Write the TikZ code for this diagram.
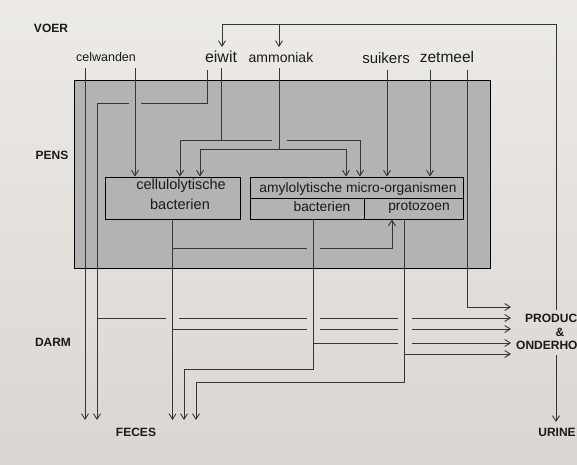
\documentclass[tikz,border=0pt]{standalone}
\usepackage{fontspec}
\setmainfont{Liberation Sans}
\usetikzlibrary{arrows.meta}
\definecolor{bgtop}{HTML}{EDEBE7}
\definecolor{bgbot}{HTML}{DAD6D2}
\definecolor{pensgray}{HTML}{B3B3B3}
\definecolor{ln}{HTML}{363636}
\definecolor{txt}{HTML}{1A1A1A}
\begin{document}
\begin{tikzpicture}[x=1pt,y=-1pt,
  flow/.style={draw=ln,line width=0.9pt},
  arr/.style={flow,-{Straight Barb[length=5.5pt,width=7pt]}},
  sect/.style={inner sep=0pt,text=txt,font=\bfseries\fontsize{12}{14}\selectfont},
  feed/.style={inner sep=0pt,text=txt},
  boxtxt/.style={inner sep=0pt,text=txt,font=\fontsize{14.5}{16}\selectfont},
  orgbox/.style={draw=black,line width=0.9pt,fill=pensgray,inner sep=0pt}
]
\useasboundingbox (0,0) rectangle (577,464);
\shade[top color=bgtop,bottom color=bgbot] (0,0) rectangle (577,464);

% section labels
\node[sect] (voer) at (51,28) {VOER};
\node[sect] (penslbl) at (52,155) {PENS};
\node[sect] (darm) at (53,342) {DARM};
\node[sect] (feces) at (136,432) {FECES};
\node[sect,anchor=west] (prod) at (525,318) {PRODUC};
\node[sect] (amp) at (560,332) {\&};
\node[sect,anchor=west] (ond) at (516,345) {ONDERHO};
\node[sect] (urine) at (557,432) {URINE};

% feed labels
\node[feed,font=\fontsize{12.5}{14}\selectfont] (celw) at (106,57) {celwanden};
\node[feed,font=\fontsize{16}{18}\selectfont] (eiwit) at (221,57) {eiwit};
\node[feed,font=\fontsize{14}{16}\selectfont] (ammo) at (281,57) {ammoniak};
\node[feed,font=\fontsize{15}{17}\selectfont] (suik) at (386,58) {suikers};
\node[feed,font=\fontsize{15.5}{17}\selectfont] (zetm) at (447,57) {zetmeel};

% rumen
\node[draw=black,line width=0.9pt,fill=pensgray,minimum width=416pt,minimum height=188pt,inner sep=0pt] (pens) at (282,174) {};

% organism boxes
\node[orgbox,minimum width=135pt,minimum height=42pt] (cell) at (172.5,198) {};
\node[boxtxt] (cellt) at (181,186) {cellulolytische};
\node[boxtxt] (cellb) at (180,204) {bacterien};

\node[orgbox,minimum width=213pt,minimum height=42pt] (amy) at (356.5,198) {};
\draw[draw=black,line width=0.9pt] (amy.west) -- (amy.east);
\coordinate (dv) at (364,198);
\draw[draw=black,line width=0.9pt] (dv) -- (dv |- amy.south);
\node[boxtxt,font=\fontsize{13.8}{16}\selectfont] (amyt) at (358,189) {amylolytische micro-organismen};
\node[boxtxt,font=\fontsize{13.8}{16}\selectfont] (bact) at (322,207) {bacterien};
\node[boxtxt,font=\fontsize{13.8}{16}\selectfont] (proto) at (419,207) {protozoen};

% reference levels
\coordinate (fy) at (0,420);
\coordinate (px) at (511,0);

% celwanden
\coordinate (cw1) at (85,68);
\coordinate (cw2) at (135,68);
\draw[arr] (cw1) -- (cw1 |- fy);
\draw[arr] (cw2) -- (cw2 |- cell.north);

% eiwit, left branch
\coordinate (ew1) at (207,70);
\coordinate (ew1b) at (207,103);
\coordinate (ew1g) at (141,103);
\coordinate (ew1h) at (129,103);
\coordinate (ew1c) at (97,103);
\draw[flow] (ew1) -- (ew1b) -- (ew1g);
\draw[arr] (ew1h) -- (ew1c) -- (ew1c |- fy);

% eiwit, right branch
\coordinate (ew2) at (221,68);
\coordinate (ew2b) at (221,140);
\coordinate (e2l) at (180,140);
\coordinate (e2g) at (272,140);
\coordinate (e2h) at (287,140);
\coordinate (e2r) at (360,140);
\draw[flow] (ew2) -- (ew2b);
\draw[arr] (e2g) -- (e2l) -- (e2l |- cell.north);
\draw[arr] (e2h) -- (e2r) -- (e2r |- amy.north);

% ammoniak
\coordinate (am) at (279,68);
\coordinate (amb) at (279,149);
\coordinate (aml) at (200,149);
\coordinate (amr) at (346,149);
\draw[flow] (am) -- (amb);
\draw[arr] (amb) -- (aml) -- (aml |- cell.north);
\draw[arr] (amb) -- (amr) -- (amr |- amy.north);

% suikers, zetmeel
\coordinate (su) at (387,70);
\coordinate (zm) at (430,70);
\coordinate (zm2) at (467,70);
\coordinate (zm2b) at (467,307);
\draw[arr] (su) -- (su |- amy.north);
\draw[arr] (zm) -- (zm |- amy.north);
\draw[arr] (zm2) -- (zm2b) -- (zm2b -| px);

% cellulolytische out
\draw[arr] (cell.south) -- (cell.south |- fy);
\coordinate (cb) at (172.5,248);
\coordinate (cbg) at (307,248);
\coordinate (cbh) at (320,248);
\coordinate (cbp) at (392,248);
\draw[flow] (cb) -- (cbg);
\draw[arr] (cbh) -- (cbp) -- (cbp |- amy.south);

% bacterien out
\coordinate (bx) at (313,369);
\coordinate (bl) at (184,369);
\draw[arr] (bx |- amy.south) -- (bx) -- (bl) -- (bl |- fy);

% protozoen out
\coordinate (pxo) at (404,382);
\coordinate (pl) at (196,382);
\draw[arr] (pxo |- amy.south) -- (pxo) -- (pl) -- (pl |- fy);

% flows to production & maintenance (with gaps at crossings)
\coordinate (h1) at (97,318);
\draw[flow] (h1) -- (166,318);
\draw[flow] (179,318) -- (307,318);
\draw[flow] (320,318) -- (398,318);
\draw[arr] (412,318) -- (h1 -| px);

\coordinate (h2) at (172.5,329);
\draw[flow] (h2) -- (307,329);
\draw[flow] (320,329) -- (398,329);
\draw[arr] (412,329) -- (h2 -| px);

\coordinate (h3) at (313,343);
\draw[flow] (h3) -- (398,343);
\draw[arr] (412,343) -- (h3 -| px);

\coordinate (h4) at (404,354);
\draw[arr] (h4) -- (h4 -| px);

% recycling loop to eiwit and ammoniak
\coordinate (tlb) at (556,310);
\coordinate (tl) at (556,24);
\coordinate (te) at (222,24);
\coordinate (ta) at (279,24);
\coordinate (tea) at (222,47);
\draw[arr] (tlb) -- (tl) -- (te) -- (tea);
\draw[arr] (ta) -- (ta |- tea);

% urine
\coordinate (ub) at (556,355);
\coordinate (ue) at (556,422);
\draw[arr] (ub) -- (ue);
\end{tikzpicture}
\end{document}
